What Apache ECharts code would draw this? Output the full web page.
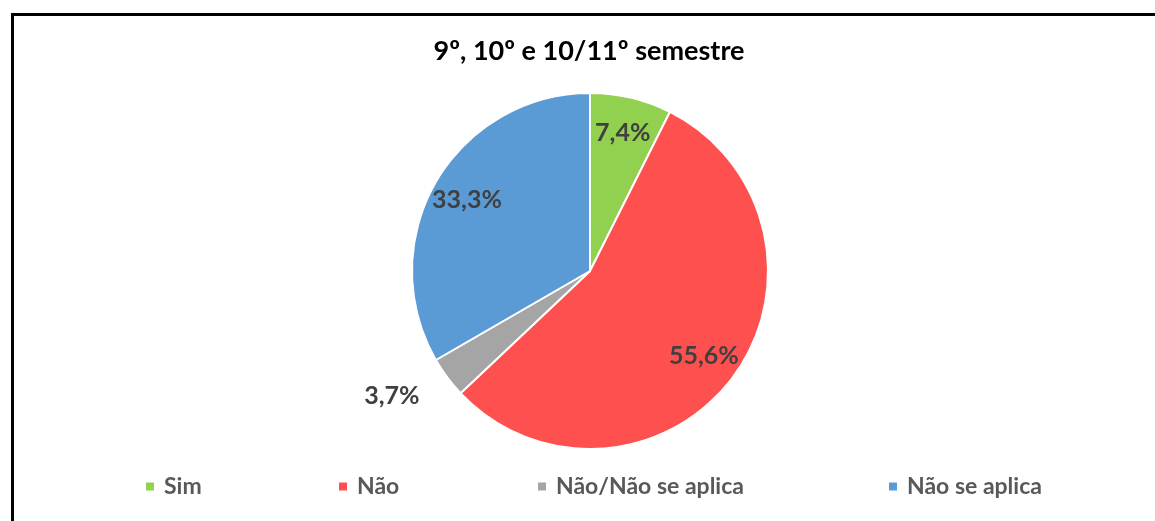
<!DOCTYPE html>
<html>
<head>
<meta charset="utf-8">
<script src="https://cdn.jsdelivr.net/npm/echarts@6/dist/echarts.min.js"></script>
<style>
  html, body { margin: 0; padding: 0; background: #fff; overflow: hidden; }
  #chart { width: 1155px; height: 521px; }
  /* cropped frame of the original screenshot: only top and left edges show */
  #frame {
    position: absolute; left: 11px; top: 13px; width: 1200px; height: 600px;
    border-top: 3px solid #000; border-left: 3px solid #000; pointer-events: none;
  }
</style>
</head>
<body>
<div id="chart"></div>
<div id="frame"></div>
<script>
const categories = ['Sim', 'Não', 'Não/Não se aplica', 'Não se aplica'];
const counts = [2, 15, 1, 9];
const colors = ['#92D050', '#FF5050', '#A5A5A5', '#5B9BD5'];
const outsideLabel = [false, false, true, false];

const FONT = "Lato, 'Open Sans', sans-serif";
const chart = echarts.init(document.getElementById('chart'));

const pct = p => p.percent.toFixed(1).replace('.', ',') + '%';
const labelStyle = { fontFamily: FONT, fontSize: 25, fontWeight: 'bold', color: '#404040' };

const legendLeft = [139, 332, 531, 882];
const legends = categories.map((name, i) => ({
  data: [name],
  left: legendLeft[i],
  top: 470,
  itemWidth: 10,
  itemHeight: 10,
  itemGap: 8,
  icon: 'rect',
  selectedMode: false,
  textStyle: { fontFamily: FONT, fontSize: 23, fontWeight: 'bold', color: '#595959', padding: [0, 0, 0, 4] }
}));

chart.setOption({
  backgroundColor: '#fff',
  animation: false,
  title: {
    text: '9º, 10º e 10/11º semestre',
    left: 584, textAlign: 'center', top: 33,
    textStyle: { fontFamily: FONT, fontSize: 27, fontWeight: 'bold', color: '#000' }
  },
  legend: legends,
  series: [
    {
      type: 'pie',
      center: [590, 271],
      radius: 178,
      startAngle: 90,
      clockwise: true,
      avoidLabelOverlap: false,
      itemStyle: { borderColor: '#fff', borderWidth: 2 },
      labelLine: { show: false, length: 32, length2: 0 },
      emphasis: { disabled: true },
      data: categories.map((name, i) => ({
        name, value: counts[i],
        itemStyle: { color: colors[i] },
        label: Object.assign({ show: outsideLabel[i], position: 'outside', formatter: pct, distanceToLabelLine: 2 }, labelStyle)
      }))
    },
    {
      type: 'pie',
      center: [590, 271],
      radius: [100, 178],
      startAngle: 90,
      clockwise: true,
      silent: true,
      itemStyle: { color: 'rgba(0,0,0,0)' },
      emphasis: { disabled: true },
      data: categories.map((name, i) => ({
        name, value: counts[i],
        label: Object.assign({ show: !outsideLabel[i], position: 'inside', formatter: pct }, labelStyle)
      }))
    }
  ]
});
</script>
</body>
</html>
